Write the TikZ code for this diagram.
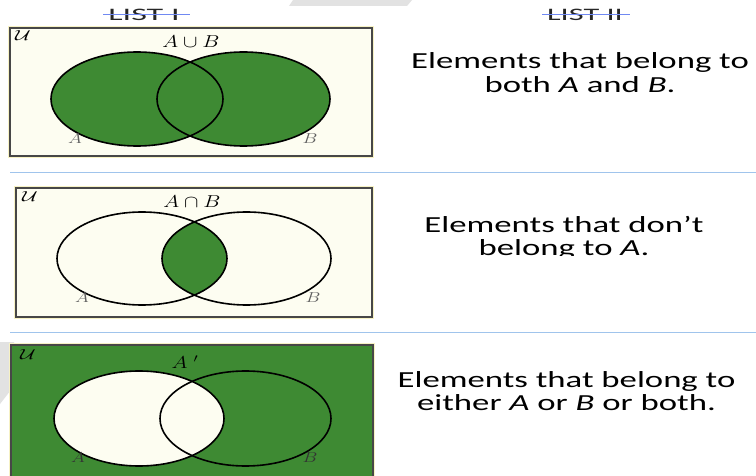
\documentclass[tikz,border=0pt]{standalone}
\usepackage{fontspec}
\newfontfamily\carlitofont{Carlito}
\definecolor{vgreen}{RGB}{62,138,51}
\definecolor{ivory}{RGB}{253,253,241}
\definecolor{glow}{RGB}{247,242,196}
\definecolor{sepblue}{RGB}{160,196,236}
\definecolor{wm}{RGB}{226,226,226}
\definecolor{lblgray}{RGB}{95,95,95}
\begin{document}
\begin{tikzpicture}[x=1pt,y=-1pt,
  ubox/.style={draw=black!72,line width=1.7pt},
  uglow/.style={draw=glow,line width=4.5pt},
  venn/.style={draw=black,line width=1.6pt},
  sep/.style={draw=sepblue,line width=1pt},
  strike/.style={draw=sepblue!70!blue,line width=1pt},
  rtext/.style={anchor=base,inner sep=0pt,font=\carlitofont\fontsize{23}{26}\selectfont},
  ttext/.style={anchor=base,inner sep=0pt,text=black!85,font=\carlitofont\fontsize{17.5}{20}\selectfont},
  mlab/.style={inner sep=0pt,font=\fontsize{17}{20}\selectfont},
  ulab/.style={inner sep=0pt,font=\fontsize{14}{16}\selectfont},
  slab/.style={inner sep=0pt,text=lblgray,font=\fontsize{15}{17}\selectfont},
  dlab/.style={slab,text=black!80}]
\useasboundingbox (0,0) rectangle (756,476);
\clip (0,0) rectangle (756,476);
\fill[white] (0,0) rectangle (756,476);
% watermark shapes
\fill[wm] (293,0) -- (412,0) -- (407,6) -- (289,6) -- cycle;
\fill[wm] (0,342) -- (14,342) -- (14,386) -- (0,404) -- cycle;
% titles
\node[ttext] (t1) at (144,20.5) {\scalebox{1.95}[1]{LIST I}};
\draw[strike] (103,14.5) -- (190,14.5);
\node[ttext] (t2) at (585,20.5) {\scalebox{1.85}[1]{LIST II}};
\draw[strike] (542,14.5) -- (630,14.5);
% separators
\draw[sep] (10,173) -- (756,173);
\draw[sep] (10,332) -- (756,332);
% ---------- panel 1 : union
\draw[uglow] (10,28) rectangle (372,156);
\fill[ivory] (10,28) rectangle (372,156);
\fill[vgreen] (137,99) ellipse [x radius=86,y radius=47];
\fill[vgreen] (243.5,99) ellipse [x radius=86.5,y radius=47];
\draw[venn] (137,99) ellipse [x radius=86,y radius=47];
\draw[venn] (243.5,99) ellipse [x radius=86.5,y radius=47];
\draw[ubox] (10,28) rectangle (372,156);
\node[ulab] (u1) at (23,36) {\scalebox{1.5}[1]{$\mathcal{U}$}};
\node[mlab] (l1) at (191,42) {\scalebox{1.25}[1]{$A\cup B$}};
\node[slab] (a1) at (75,139) {\scalebox{1.3}[1]{$A$}};
\node[slab] (b1) at (310,139) {\scalebox{1.3}[1]{$B$}};
% ---------- panel 2 : intersection
\draw[uglow] (16,188) rectangle (372,317);
\fill[ivory] (16,188) rectangle (372,317);
\begin{scope}
\clip (142,258.5) ellipse [x radius=85,y radius=46.5];
\fill[vgreen] (246.5,258.5) ellipse [x radius=84.5,y radius=46.5];
\end{scope}
\draw[venn] (142,258.5) ellipse [x radius=85,y radius=46.5];
\draw[venn] (246.5,258.5) ellipse [x radius=84.5,y radius=46.5];
\draw[ubox] (16,188) rectangle (372,317);
\node[ulab] (u2) at (30,197) {\scalebox{1.5}[1]{$\mathcal{U}$}};
\node[mlab] (l2) at (192,202) {\scalebox{1.25}[1]{$A\cap B$}};
\node[slab] (a2) at (82,298) {\scalebox{1.3}[1]{$A$}};
\node[slab] (b2) at (313,298) {\scalebox{1.3}[1]{$B$}};
% ---------- panel 3 : complement
\draw[uglow] (11,345) rectangle (373,490);
\fill[vgreen] (11,345) rectangle (373,490);
\fill[ivory] (139,418.5) ellipse [x radius=85,y radius=47.5];
\draw[venn] (139,418.5) ellipse [x radius=85,y radius=47.5];
\draw[venn] (245.5,418.5) ellipse [x radius=85.5,y radius=47.5];
\draw[ubox] (11,345) rectangle (373,490);
\node[ulab] (u3) at (28,355) {\scalebox{1.5}[1]{$\mathcal{U}$}};
\node[mlab] (l3) at (185,362) {\scalebox{1.25}[1]{$A\;{}'$}};
\node[dlab] (a3) at (78,458) {\scalebox{1.3}[1]{$A$}};
\node[dlab] (b3) at (310,458) {\scalebox{1.3}[1]{$B$}};
% ---------- right texts
\node[rtext] (r1a) at (580,69) {\scalebox{1.51}[1]{Elements that belong to}};
\node[rtext] (r1b) at (580,93) {\scalebox{1.51}[1]{both \textit{A} and \textit{B}.}};
\node[rtext] (r2a) at (564,233) {\scalebox{1.51}[1]{Elements that don’t}};
\begin{scope}
\clip (380,238) rectangle (756,256);
\node[rtext] (r2b) at (564,256) {\scalebox{1.51}[1]{belong to \textit{A}.}};
\end{scope}
\node[rtext] (r3a) at (566.5,387) {\scalebox{1.51}[1]{Elements that belong to}};
\node[rtext] (r3b) at (566.5,410) {\scalebox{1.51}[1]{either \textit{A} or \textit{B} or both.}};
\end{tikzpicture}
\end{document}
